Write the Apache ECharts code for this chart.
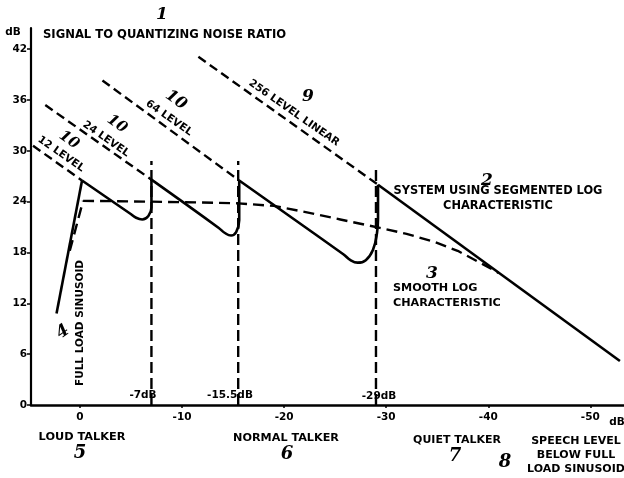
<!DOCTYPE html>
<html><head><meta charset="utf-8">
<script src="https://cdn.jsdelivr.net/npm/echarts@6/dist/echarts.min.js"></script>
<style>html,body{margin:0;padding:0;background:#fff}#c{width:624px;height:478px}</style>
</head><body><div id="c"></div>
<script>
// ---- data (x = speech level in dB below full load sinusoid, y = S/N in dB) ----
const yTicks = [0, 6, 12, 18, 24, 30, 36, 42];
const xTicks = [0, -10, -20, -30, -40, -50];
const fullLoadSinusoid = [[2.3, 10.8], [-0.2, 26.5]];
const segTooth1 = [[-0.2, 26.5], [-4.9, 22.6], [-5.5, 22.1], [-6.1, 21.9], [-6.7, 22.3], [-7.0, 23.3], [-7.0, 26.6]];
const segTooth2 = [[-7.0, 26.6], [-13.6, 20.9], [-14.2, 20.3], [-14.8, 20.0], [-15.3, 20.4], [-15.6, 21.8], [-15.6, 26.5]];
const segTooth3 = [[-15.6, 26.5], [-25.8, 17.8], [-26.5, 17.1], [-27.2, 16.8], [-28.0, 17.1], [-28.7, 18.3], [-29.1, 20.3], [-29.2, 22.0], [-29.2, 26.0]];
const segTail = [[-29.2, 26.0], [-52.9, 5.2]];
const level12 = [[4.6, 30.6], [-0.2, 26.5]];
const level24 = [[3.4, 35.4], [-7.0, 26.6]];
const level64 = [[-2.2, 38.3], [-15.6, 26.5]];
const level256 = [[-11.6, 41.1], [-29.2, 26.0]];
const smoothLogRise = [[1.0, 18.2], [-0.3, 24.1]];
const smoothLog = [[-0.3, 24.1], [-7, 24.0], [-12, 23.9], [-15.5, 23.8], [-19, 23.5], [-22, 22.8], [-25.5, 21.9], [-29.4, 20.9], [-32, 20.2], [-34.6, 19.3], [-37, 18.2], [-39.5, 16.6], [-41, 15.6]];
const breakpoints = [-7, -15.5, -29];
const breakTops = [28.8, 28.8, 28.0];

const chart = echarts.init(document.getElementById('c'));
const FONT = '"DejaVu Sans", sans-serif';
const HAND = '"DejaVu Serif", serif';

function solid(d, sm) {
  return { type: 'line', data: d, showSymbol: false, smooth: sm || false, silent: true,
    lineStyle: { color: '#000', width: 2.6 }, z: 3 };
}
function dashed(d, sm) {
  return { type: 'line', data: d, showSymbol: false, smooth: sm || false, silent: true,
    lineStyle: { color: '#000', width: 2.4, type: [9, 5] }, z: 2 };
}
const series = [
  solid(fullLoadSinusoid),
  solid(segTooth1, 0.45), solid(segTooth2, 0.45), solid(segTooth3, 0.45), solid(segTail),
  dashed(level12), dashed(level24), dashed(level64), dashed(level256),
  { type: 'line', data: smoothLogRise, showSymbol: false, silent: true,
    lineStyle: { color: '#000', width: 2.4, type: [11, 6] }, z: 2 },
  { type: 'line', data: smoothLog, showSymbol: false, smooth: false, silent: true,
    lineStyle: { color: '#000', width: 2.4, type: [11, 6], join: 'round' }, z: 2 }
];
breakpoints.forEach((b, i) => {
  series.push({ type: 'line', data: [[b, 0], [b, breakTops[i]]], showSymbol: false, silent: true,
    lineStyle: { color: '#000', width: 2.4, type: [11, 5] }, z: 2 });
});

function txt(text, x, y, size, opts) {
  opts = opts || {};
  return { type: 'text', x: x, y: y, rotation: opts.rot || 0, z: 10,
    style: { text: text, fill: '#000', font: (opts.hand ? 'italic bold ' : 'bold ') + size + 'px ' + (opts.hand ? HAND : FONT),
      align: opts.align || 'center', verticalAlign: 'middle', textAlign: opts.align || 'center', textVerticalAlign: 'middle',
      lineHeight: opts.lh || size + 3 } };
}
const R = -0.61;
const graphics = [
  txt('SIGNAL TO QUANTIZING NOISE RATIO', 43, 35, 11.6, { align: 'left' }),
  txt('dB', 13, 32, 10.5),
  txt('12 LEVEL', 61, 154, 10.5, { rot: R }),
  txt('24 LEVEL', 106, 139, 10.5, { rot: R }),
  txt('64 LEVEL', 169, 118, 10.5, { rot: R }),
  txt('256 LEVEL LINEAR', 294, 113, 10.5, { rot: R }),
  txt('SYSTEM USING SEGMENTED LOG\nCHARACTERISTIC', 498, 199, 11.4, { lh: 15 }),
  txt('SMOOTH LOG\nCHARACTERISTIC', 393, 296, 11.2, { align: 'left', lh: 15 }),
  txt('FULL LOAD SINUSOID', 80, 323, 10.5, { rot: Math.PI / 2 }),
  txt('-7dB', 143, 395, 10.5),
  txt('-15.5dB', 230, 395, 10.5),
  txt('-29dB', 379, 396, 10.5),
  txt('LOUD TALKER', 82, 437, 11.3),
  txt('NORMAL TALKER', 286, 438, 11.2),
  txt('QUIET TALKER', 457, 440, 11),
  txt('SPEECH LEVEL\nBELOW FULL\nLOAD SINUSOID', 576, 455, 11, { lh: 14 }),
  txt('dB', 617, 422, 10.5),
  // handwritten reference numerals
  txt('1', 162, 15, 17, { hand: true }),
  txt('10', 69, 140, 15, { hand: true, rot: R }),
  txt('10', 117, 124, 15, { hand: true, rot: R }),
  txt('10', 176, 100, 16, { hand: true, rot: R }),
  txt('9', 308, 97, 17, { hand: true }),
  txt('2', 487, 181, 17, { hand: true }),
  txt('3', 432, 274, 17, { hand: true }),
  txt('4', 63, 332, 17, { hand: true, rot: 0.6 }),
  txt('5', 80, 453, 18, { hand: true }),
  txt('6', 287, 454, 18, { hand: true }),
  txt('7', 455, 456, 18, { hand: true }),
  txt('8', 505, 462, 18, { hand: true })
];

chart.setOption({
  backgroundColor: '#fff',
  animation: false,
  grid: { left: 31, right: 0, top: 28, bottom: 73, containLabel: false },
  xAxis: {
    type: 'value', inverse: true, min: -53.3, max: 4.8,
    splitLine: { show: false },
    axisLine: { onZero: false, lineStyle: { color: '#000', width: 2.6 } },
    axisTick: { show: true, length: 3, inside: false, lineStyle: { color: '#000', width: 1.5 }, customValues: xTicks },
    axisLabel: { color: '#000', fontFamily: FONT, fontWeight: 'bold', fontSize: 10.5, margin: 7, customValues: xTicks }
  },
  yAxis: {
    type: 'value', min: 0, max: 44.5,
    splitLine: { show: false },
    axisLine: { onZero: false, lineStyle: { color: '#000', width: 2.2 } },
    axisTick: { show: true, length: 4, lineStyle: { color: '#000', width: 1.5 }, customValues: yTicks },
    axisLabel: { color: '#000', fontFamily: FONT, fontWeight: 'bold', fontSize: 10.5, margin: 4, customValues: yTicks }
  },
  series: series,
  graphic: graphics
});
</script></body></html>
